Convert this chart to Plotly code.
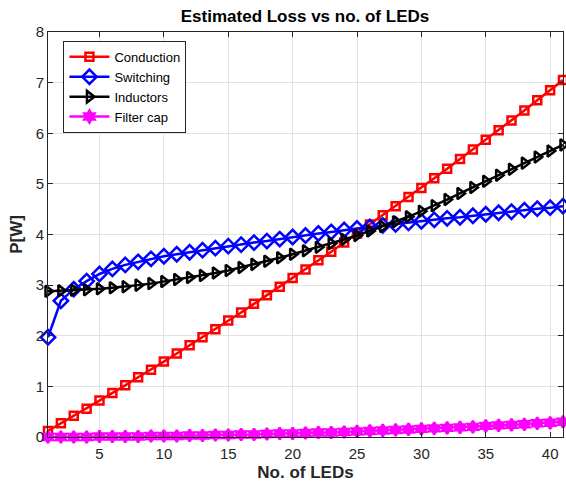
import plotly.graph_objects as go

n_leds = list(range(1, 42))

conduction = [0.12, 0.27, 0.42, 0.56, 0.72, 0.87, 1.02, 1.18, 1.33, 1.49,
              1.65, 1.81, 1.97, 2.13, 2.30, 2.46, 2.63, 2.80, 2.97, 3.14,
              3.31, 3.49, 3.66, 3.84, 4.02, 4.20, 4.38, 4.56, 4.74, 4.92,
              5.11, 5.30, 5.49, 5.68, 5.87, 6.06, 6.25, 6.45, 6.65, 6.85, 7.05]

switching = [1.97, 2.69, 2.92, 3.08, 3.22, 3.32, 3.40, 3.46, 3.52, 3.57,
             3.61, 3.65, 3.69, 3.73, 3.77, 3.80, 3.84, 3.87, 3.91, 3.95,
             3.98, 4.02, 4.05, 4.09, 4.12, 4.15, 4.18, 4.20, 4.23, 4.26,
             4.29, 4.32, 4.34, 4.37, 4.40, 4.43, 4.45, 4.48, 4.51, 4.53, 4.56]

inductors = [2.88, 2.89, 2.90, 2.91, 2.93, 2.95, 2.97, 3.00, 3.03, 3.07,
             3.11, 3.15, 3.19, 3.24, 3.29, 3.35, 3.41, 3.47, 3.54, 3.61,
             3.68, 3.75, 3.82, 3.90, 3.98, 4.07, 4.16, 4.25, 4.35, 4.46,
             4.57, 4.69, 4.81, 4.93, 5.05, 5.17, 5.29, 5.41, 5.53, 5.65, 5.77]

filter_cap = [0.00, 0.00, 0.00, 0.00, 0.01, 0.01, 0.01, 0.01, 0.02, 0.02,
              0.02, 0.03, 0.03, 0.04, 0.04, 0.05, 0.05, 0.06, 0.07, 0.07,
              0.08, 0.09, 0.09, 0.10, 0.11, 0.12, 0.13, 0.14, 0.15, 0.16,
              0.17, 0.18, 0.19, 0.20, 0.22, 0.23, 0.24, 0.25, 0.27, 0.28, 0.30]

series = [
    ("Conduction", conduction, "#ff0000", "square-open", 8),
    ("Switching", switching, "#0000ff", "diamond-open", 11),
    ("Inductors", inductors, "#000000", "triangle-right-open", 10),
    ("Filter cap", filter_cap, "#ff00ff", "hexagram", 9),
]

x_ticks = [5, 10, 15, 20, 25, 30, 35, 40]
y_ticks = [0, 1, 2, 3, 4, 5, 6, 7, 8]

FONT = "Liberation Sans, Arial, Helvetica"

fig = go.Figure()
for name, vals, col, sym, sz in series:
    fig.add_trace(go.Scatter(
        x=n_leds, y=vals, name=name, mode="lines+markers",
        line=dict(color=col, width=2.5),
        marker=dict(symbol=sym, size=sz, color=col,
                    line=dict(color=col, width=2.5)),
        cliponaxis=False,
    ))

axis_common = dict(
    showgrid=True, gridcolor="#e2e2e2", gridwidth=1,
    showline=True, linecolor="#262626", linewidth=1, mirror="ticks",
    ticks="inside", ticklen=5, tickcolor="#262626",
    tickfont=dict(family=FONT, size=15, color="#262626"),
    zeroline=False,
)

fig.update_layout(
    width=566, height=483,
    margin=dict(l=48, r=3, t=32, b=46),
    paper_bgcolor="white", plot_bgcolor="white",
    title=dict(text="<b>Estimated Loss vs no. of LEDs</b>",
               x=305 / 566, xanchor="center",
               y=1 - 16 / 483, yanchor="middle",
               font=dict(family=FONT, size=17, color="black")),
    xaxis=dict(axis_common, range=[1, 41], tickvals=x_ticks,
               ticklabelstandoff=3,
               title=dict(text="<b>No. of LEDs</b>", standoff=5,
                          font=dict(family=FONT, size=17, color="#262626"))),
    yaxis=dict(axis_common, range=[0, 8], tickvals=y_ticks,
               title=dict(text="<b>P[W]</b>", standoff=8,
                          font=dict(family=FONT, size=17, color="#262626"))),
    legend=dict(x=0.03, y=0.978, xanchor="left", yanchor="top",
                bgcolor="white", bordercolor="#262626", borderwidth=1,
                font=dict(family=FONT, size=13, color="black"),
                tracegroupgap=0, itemwidth=40),
    showlegend=True,
)

fig.write_html("out.html")
